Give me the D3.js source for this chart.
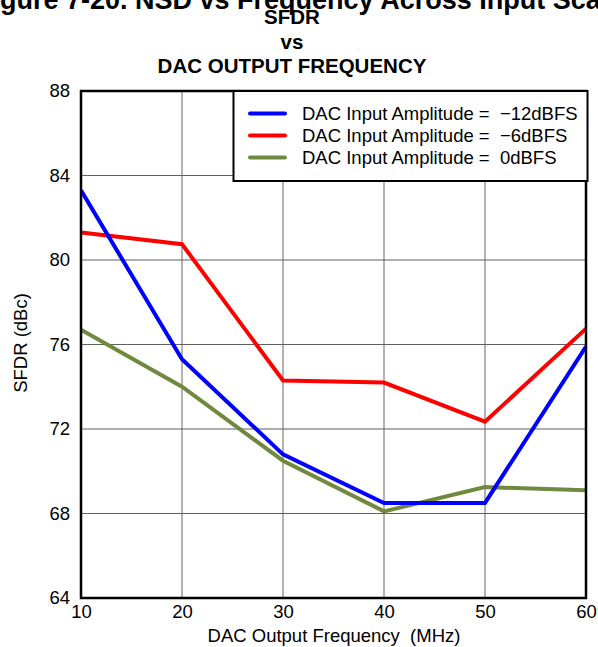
<!DOCTYPE html>
<html>
<head>
<meta charset="utf-8">
<script src="https://cdn.jsdelivr.net/npm/d3@7"></script>
<style>
  html, body { margin: 0; padding: 0; background: #fff; }
  svg { display: block; font-family: "Liberation Sans", Arial, sans-serif; }
</style>
</head>
<body>
<svg id="chart" width="598" height="647"></svg>
<script>
// DAC output frequency (MHz)
const frequencies = [10, 20, 30, 40, 50, 60];
// SFDR (dBc) per input amplitude
const sfdrMinus12 = [83.3, 75.3, 70.8, 68.5, 68.5, 75.9];
const sfdrMinus6  = [81.3, 80.75, 74.3, 74.2, 72.35, 76.75];
const sfdrZero    = [76.7, 74.0, 70.5, 68.1, 69.25, 69.1];

const seriesNames = [
  "DAC Input Amplitude =  \u221212dBFS",
  "DAC Input Amplitude =  \u22126dBFS",
  "DAC Input Amplitude =  0dBFS"
];
const seriesColors = ["#0000ff", "#ff0000", "#71893f"];

const xTicks = [10, 20, 30, 40, 50, 60];
const yTicks = [64, 68, 72, 76, 80, 84, 88];

const FONT = "Liberation Sans, Arial, sans-serif";
const svg = d3.select("#chart");
const plot = { left: 81, right: 586, top: 91, bottom: 598 };

const x = d3.scaleLinear().domain([10, 60]).range([plot.left, plot.right]);
const y = d3.scaleLinear().domain([64, 88]).range([plot.bottom, plot.top]);

// Figure caption (runs past the top edge) and chart titles
svg.append("text")
  .attr("x", -24).attr("y", 9)
  .attr("font-size", 27).attr("font-weight", "bold")
  .text("Figure 7-20. NSD vs Frequency Across Input Scale");

const titleLines = ["SFDR", "vs", "DAC OUTPUT FREQUENCY"];
svg.selectAll("text.title").data(titleLines).enter().append("text")
  .attr("class", "title")
  .attr("x", 292)
  .attr("y", (d, i) => 24 + i * 24.5)
  .attr("text-anchor", "middle")
  .attr("font-size", 20.5).attr("font-weight", "bold")
  .text(d => d);

// Gridlines
const grid = svg.append("g");
grid.selectAll("line.gx").data(xTicks.slice(1, -1)).enter().append("line")
  .attr("x1", d => x(d)).attr("x2", d => x(d))
  .attr("y1", plot.top).attr("y2", plot.bottom)
  .attr("stroke", "#808080").attr("stroke-width", 1.2);
grid.selectAll("line.gy").data(yTicks.slice(1, -1)).enter().append("line")
  .attr("x1", plot.left).attr("x2", plot.right)
  .attr("y1", d => y(d)).attr("y2", d => y(d))
  .attr("stroke", "#606060").attr("stroke-width", 1.2);

// Axes (labels only; frame drawn separately)
const xAxis = svg.append("g")
  .attr("transform", `translate(0,${plot.bottom})`)
  .call(d3.axisBottom(x).tickValues(xTicks).tickSize(0).tickPadding(7).tickFormat(d3.format("d")));
xAxis.select(".domain").remove();
xAxis.selectAll("text").attr("font-size", 18.5).attr("fill", "#000").attr("font-family", FONT);

const yAxis = svg.append("g")
  .attr("transform", `translate(${plot.left},0)`)
  .call(d3.axisLeft(y).tickValues(yTicks).tickSize(0).tickPadding(11).tickFormat(d3.format("d")));
yAxis.select(".domain").remove();
yAxis.selectAll("text").attr("font-size", 18.5).attr("fill", "#000").attr("font-family", FONT);

// Axis titles
svg.append("text")
  .attr("x", 334).attr("y", 642)
  .attr("text-anchor", "middle").attr("font-size", 18.5)
  .attr("xml:space", "preserve")
  .text("DAC Output Frequency  (MHz)");
svg.append("text")
  .attr("transform", "translate(27,343) rotate(-90)")
  .attr("text-anchor", "middle").attr("font-size", 18.5)
  .text("SFDR (dBc)");

// Data lines
const allSeries = [sfdrMinus12, sfdrMinus6, sfdrZero];
const line = d3.line().x((d, i) => x(frequencies[i])).y(d => y(d));
svg.append("defs").append("clipPath").attr("id", "plotClip")
  .append("rect").attr("x", plot.left).attr("y", plot.top)
  .attr("width", plot.right - plot.left).attr("height", plot.bottom - plot.top);
const lines = svg.append("g").attr("clip-path", "url(#plotClip)");
// green first, then red, then blue on top
[2, 1, 0].forEach(k => {
  lines.append("path")
    .datum(allSeries[k])
    .attr("d", line)
    .attr("fill", "none")
    .attr("stroke", seriesColors[k])
    .attr("stroke-width", 4)
    .attr("stroke-linejoin", "miter");
});

// Plot frame
svg.append("rect")
  .attr("x", plot.left).attr("y", plot.top)
  .attr("width", plot.right - plot.left).attr("height", plot.bottom - plot.top)
  .attr("fill", "none").attr("stroke", "#000").attr("stroke-width", 2.5);

// Legend
const legend = svg.append("g");
legend.append("rect")
  .attr("x", 233.5).attr("y", 91).attr("width", 354).attr("height", 90)
  .attr("fill", "#fff").attr("stroke", "#000").attr("stroke-width", 2);
seriesNames.forEach((name, i) => {
  const ly = 113.5 + i * 22;
  legend.append("line")
    .attr("x1", 250).attr("x2", 285).attr("y1", ly).attr("y2", ly)
    .attr("stroke", seriesColors[i]).attr("stroke-width", 4)
    .attr("stroke-linecap", "round");
  legend.append("text")
    .attr("x", 302).attr("y", ly + 6.5)
    .attr("font-size", 18.5)
    .attr("xml:space", "preserve")
    .text(name);
});
</script>
</body>
</html>
